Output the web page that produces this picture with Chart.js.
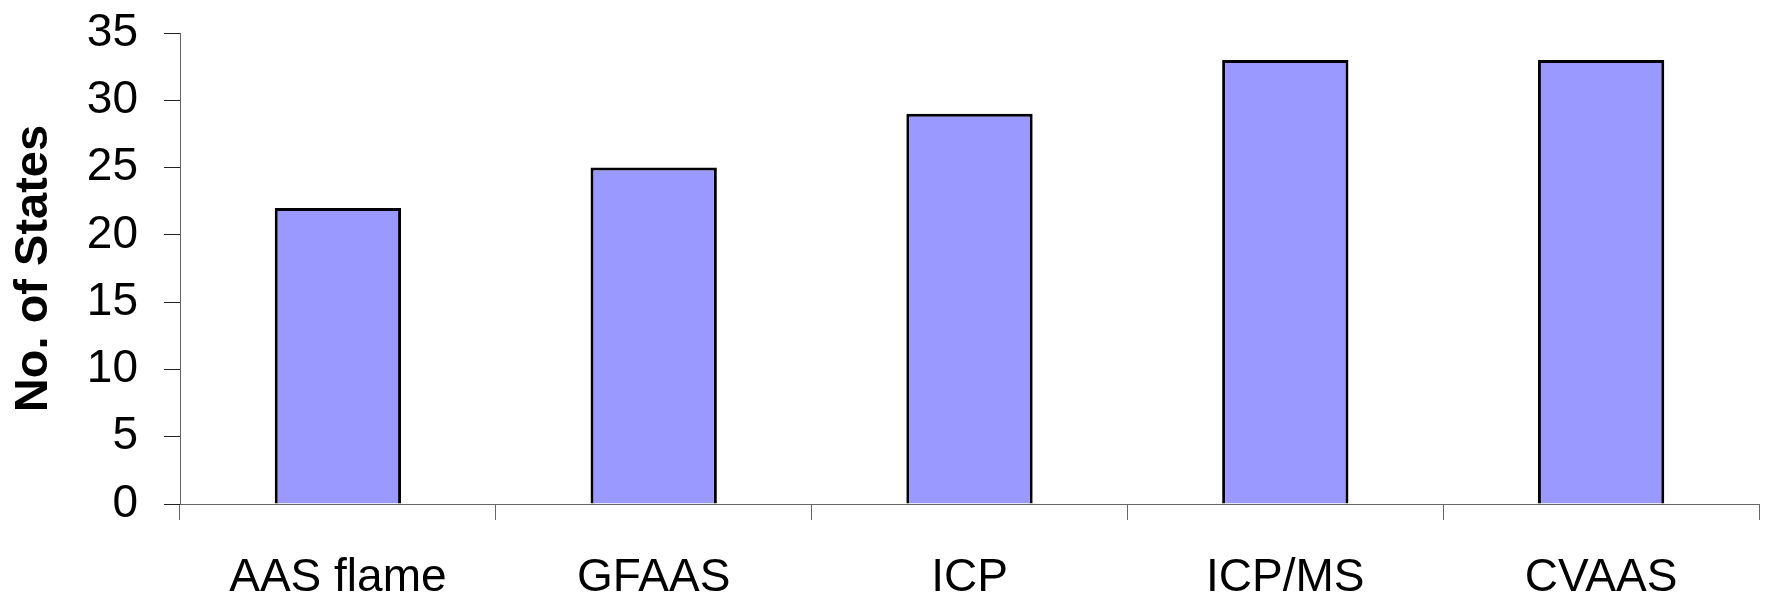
<!DOCTYPE html>
<html>
<head>
<meta charset="utf-8">
<script src="https://cdn.jsdelivr.net/npm/chart.js@4"></script>
<style>
  html, body { margin: 0; padding: 0; background: #fff; }
  #caja { width: 1768px; height: 596px; }
</style>
</head>
<body>
<div id="caja"><canvas id="grafica"></canvas></div>
<script>
// datos del gráfico
const metodos = ['AAS flame', 'GFAAS', 'ICP', 'ICP/MS', 'CVAAS'];
const estados = [22, 25, 29, 33, 33];
const ejeY = { min: 0, max: 35, paso: 5 };

Chart.defaults.font.family = '"Liberation Sans", Arial, sans-serif';
Chart.defaults.color = '#000';

let ctx = document.getElementById('grafica').getContext('2d');
let grafica = new Chart(ctx, {
    type: 'bar',
    data: {
        labels: metodos,
        datasets: [{
            data: estados,
            backgroundColor: '#9999FF',
            borderColor: '#000',
            borderWidth: 3,
            categoryPercentage: 1,
            barPercentage: 0.40
        }]
    },
    options: {
        responsive: true,
        maintainAspectRatio: false,
        animation: false,
        layout: { padding: { top: 33, right: 9, left: 0, bottom: 0 } },
        plugins: {
            legend: { display: false },
            tooltip: { enabled: false }
        },
        scales: {
            x: {
                grid: {
                    drawOnChartArea: false,
                    drawTicks: true,
                    tickLength: 16,
                    color: '#666',
                    lineWidth: 1
                },
                border: { color: '#666', width: 1 },
                ticks: {
                    font: { size: 46 },
                    padding: 31,
                    maxRotation: 0
                },
                afterFit: function(escala) { escala.height = 92; }
            },
            y: {
                min: ejeY.min,
                max: ejeY.max,
                grid: {
                    drawOnChartArea: false,
                    drawTicks: true,
                    tickLength: 16,
                    color: '#222',
                    lineWidth: 1
                },
                border: { color: '#666', width: 1 },
                ticks: {
                    stepSize: ejeY.paso,
                    font: { size: 46 },
                    padding: 26
                },
                title: {
                    display: true,
                    text: 'No. of States',
                    font: { size: 47, weight: 'bold' },
                    padding: { top: 6, bottom: 0 }
                },
                afterFit: function(escala) {
                    escala.width = 180;
                    // sin margen extra arriba por la etiqueta del 35
                    escala.paddingTop = 0;
                    escala.paddingBottom = 0;
                }
            }
        }
    }
});
</script>
</body>
</html>
